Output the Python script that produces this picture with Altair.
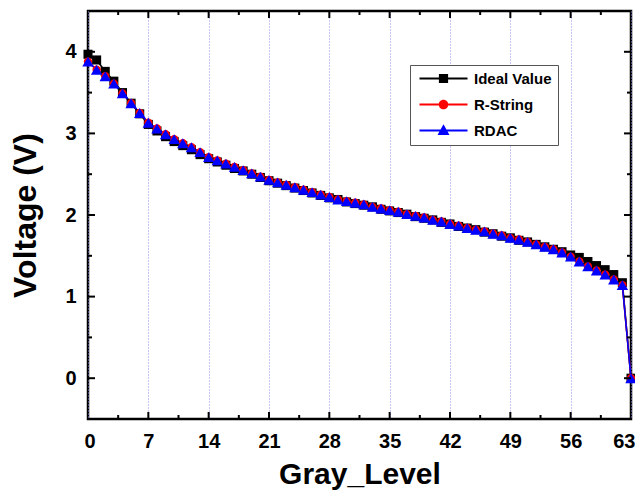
import altair as alt
import pandas as pd

# ---------------- data ----------------
levels = list(range(64))

ideal = [3.97, 3.90, 3.76, 3.64, 3.50, 3.37, 3.24, 3.11, 3.03, 2.96,
         2.90, 2.85, 2.80, 2.74, 2.69, 2.65, 2.61, 2.57, 2.54, 2.50,
         2.46, 2.42, 2.39, 2.36, 2.33, 2.30, 2.27, 2.24, 2.21, 2.19,
         2.16, 2.14, 2.12, 2.10, 2.07, 2.05, 2.03, 2.01, 1.98, 1.96,
         1.94, 1.91, 1.89, 1.86, 1.84, 1.82, 1.79, 1.77, 1.74, 1.72,
         1.69, 1.67, 1.64, 1.61, 1.58, 1.55, 1.51, 1.48, 1.43, 1.38,
         1.33, 1.27, 1.17, 0.00]

rstring = [3.88, 3.78, 3.70, 3.61, 3.49, 3.37, 3.25, 3.13, 3.06, 2.99,
           2.93, 2.88, 2.83, 2.77, 2.71, 2.67, 2.63, 2.59, 2.55, 2.51,
           2.47, 2.43, 2.40, 2.37, 2.34, 2.31, 2.28, 2.25, 2.22, 2.19,
           2.17, 2.15, 2.13, 2.10, 2.08, 2.06, 2.04, 2.01, 1.99, 1.97,
           1.94, 1.92, 1.89, 1.87, 1.84, 1.82, 1.80, 1.77, 1.75, 1.72,
           1.70, 1.67, 1.64, 1.61, 1.58, 1.54, 1.49, 1.43, 1.37, 1.32,
           1.27, 1.21, 1.14, 0.00]

rdac = [3.88, 3.78, 3.70, 3.61, 3.49, 3.37, 3.25, 3.13, 3.06, 2.99,
        2.93, 2.88, 2.83, 2.77, 2.71, 2.67, 2.63, 2.59, 2.55, 2.51,
        2.47, 2.43, 2.40, 2.37, 2.34, 2.31, 2.28, 2.25, 2.22, 2.19,
        2.17, 2.15, 2.13, 2.10, 2.08, 2.06, 2.04, 2.01, 1.99, 1.97,
        1.94, 1.92, 1.89, 1.87, 1.84, 1.82, 1.80, 1.77, 1.75, 1.72,
        1.70, 1.67, 1.64, 1.61, 1.58, 1.54, 1.49, 1.43, 1.37, 1.32,
        1.27, 1.21, 1.14, 0.00]

series_names = ["Ideal Value", "R-String", "RDAC"]
series_colors = ["#000000", "#ff0000", "#0000ff"]
series_shapes = ["square", "circle", "triangle-up"]
series_sizes = [82, 70, 130]

x_labels = [0, 7, 14, 21, 28, 35, 42, 49, 56, 63]
x_major = [7, 14, 21, 28, 35, 42, 49, 56]
x_minor = [3.5, 10.5, 17.5, 24.5, 31.5, 38.5, 45.5, 52.5, 59.5]
y_labels = [0, 1, 2, 3, 4]
y_minor = [0.5, 1.5, 2.5, 3.5]

rows = []
for name, vals in zip(series_names, [ideal, rstring, rdac]):
    for lv, v in zip(levels, vals):
        rows.append({"level": lv, "value": v, "series": name})
df = pd.DataFrame(rows)

# ---------------- layout ----------------
W, H = 543, 408
FONT = "Liberation Sans"
MAJ, MIN = 7, 4

x_scale = alt.Scale(domain=[0, 63], nice=False, zero=False)
y_scale = alt.Scale(domain=[-0.5, 4.5], nice=False, zero=False)
color_scale = alt.Scale(domain=series_names, range=series_colors)

# legend symbols: a line segment with the marker in the middle (filled paths)
line_part = "M-1,-0.22H11V0.22H-1Z"
legend_paths = [
    line_part + "M3.85,-1.15H6.15V1.15H3.85Z",
    line_part + "M6.2,0A1.2,1.2,0,1,1,3.8,0A1.2,1.2,0,1,1,6.2,0Z",
    line_part + "M5,-1.55L6.5,1.15H3.5Z",
]

x_main_axis = alt.Axis(orient="bottom", values=x_labels, format="d", ticks=False,
                       tickSize=0, domain=False, grid=True, gridColor="#8f8fef",
                       gridDash=[1, 2], gridWidth=1, labelFont=FONT, labelFontSize=20,
                       labelFontWeight="bold", labelColor="black", labelPadding=12,
                       labelFlush=True, labelFlushOffset=4, title="Gray_Level",
                       titleFont=FONT, titleFontSize=30, titleFontWeight="bold",
                       titleColor="black", titlePadding=8)
y_main_axis = alt.Axis(orient="left", values=y_labels, format="d", ticks=False,
                       tickSize=0, domain=False, grid=False, labelFont=FONT,
                       labelFontSize=20, labelFontWeight="bold", labelColor="black",
                       labelPadding=12, labelFlush=False, title="Voltage (V)",
                       titleFont=FONT, titleFontSize=32, titleFontWeight="bold",
                       titleColor="black", titlePadding=22)

base = alt.Chart(df)

line_layers = []
for i, name in enumerate(series_names):
    if i == 0:
        xe = alt.X("level:Q", scale=x_scale, axis=x_main_axis)
        ye = alt.Y("value:Q", scale=y_scale, axis=y_main_axis)
    else:
        xe = alt.X("level:Q", scale=x_scale)
        ye = alt.Y("value:Q", scale=y_scale)
    line_layers.append(
        base.transform_filter(alt.datum.series == name)
        .mark_line(strokeWidth=1.6, color=series_colors[i])
        .encode(x=xe, y=ye)
    )

point_layers = []
for i, name in enumerate(series_names):
    point_layers.append(
        base.transform_filter(alt.datum.series == name)
        .mark_point(filled=True, opacity=1, strokeWidth=0,
                    shape=series_shapes[i], size=series_sizes[i],
                    color=series_colors[i])
        .encode(
            x=alt.X("level:Q", scale=x_scale),
            y=alt.Y("value:Q", scale=y_scale),
        )
    )

# layer without visible marks that carries the legend (domain is explicit)
legend_layer = base.transform_filter("false").mark_point(
    filled=True, opacity=1, size=64, strokeWidth=0
).encode(
    x=alt.X("level:Q", scale=x_scale),
    y=alt.Y("value:Q", scale=y_scale),
    color=alt.Color("series:N", scale=color_scale, legend=alt.Legend(title=None)),
    shape=alt.Shape("series:N", scale=alt.Scale(domain=series_names, range=legend_paths),
                    legend=alt.Legend(title=None)),
)


# inward tick marks on all four sides of the frame
def x_ticks(values, y0, y1):
    return alt.Chart(pd.DataFrame({"t": values})).mark_rule(
        color="black", strokeWidth=2
    ).encode(
        x=alt.X("t:Q", scale=x_scale),
        y=alt.value(y0), y2=alt.value(y1),
    )


def y_ticks(values, x0, x1):
    return alt.Chart(pd.DataFrame({"t": values})).mark_rule(
        color="black", strokeWidth=2
    ).encode(
        y=alt.Y("t:Q", scale=y_scale),
        x=alt.value(x0), x2=alt.value(x1),
    )


tick_layers = [
    x_ticks(x_major, H, H - MAJ), x_ticks(x_minor, H, H - MIN),
    x_ticks(x_major, 0, MAJ), x_ticks(x_minor, 0, MIN),
    y_ticks(y_labels, 0, MAJ), y_ticks(y_minor, 0, MIN),
    y_ticks(y_labels, W, W - MAJ), y_ticks(y_minor, W, W - MIN),
]

chart = alt.layer(*line_layers, *point_layers, legend_layer, *tick_layers).properties(
    width=W, height=H,
    autosize=alt.AutoSizeParams(type="none"),
    padding={"left": 80, "top": 3, "right": 4, "bottom": 72},
    background="white",
).configure_view(
    stroke="black", strokeWidth=2.5, fill="white"
).configure_legend(
    orient="none", legendX=322, legendY=54, padding=6, rowPadding=10,
    strokeColor="#555555", fillColor="white", labelFont=FONT, labelFontSize=15,
    labelFontWeight="bold", labelColor="black", labelOffset=43,
    symbolStrokeWidth=0, symbolSize=64, labelLimit=200,
)

chart.save("out.html", embed_options={"renderer": "svg", "actions": False})
